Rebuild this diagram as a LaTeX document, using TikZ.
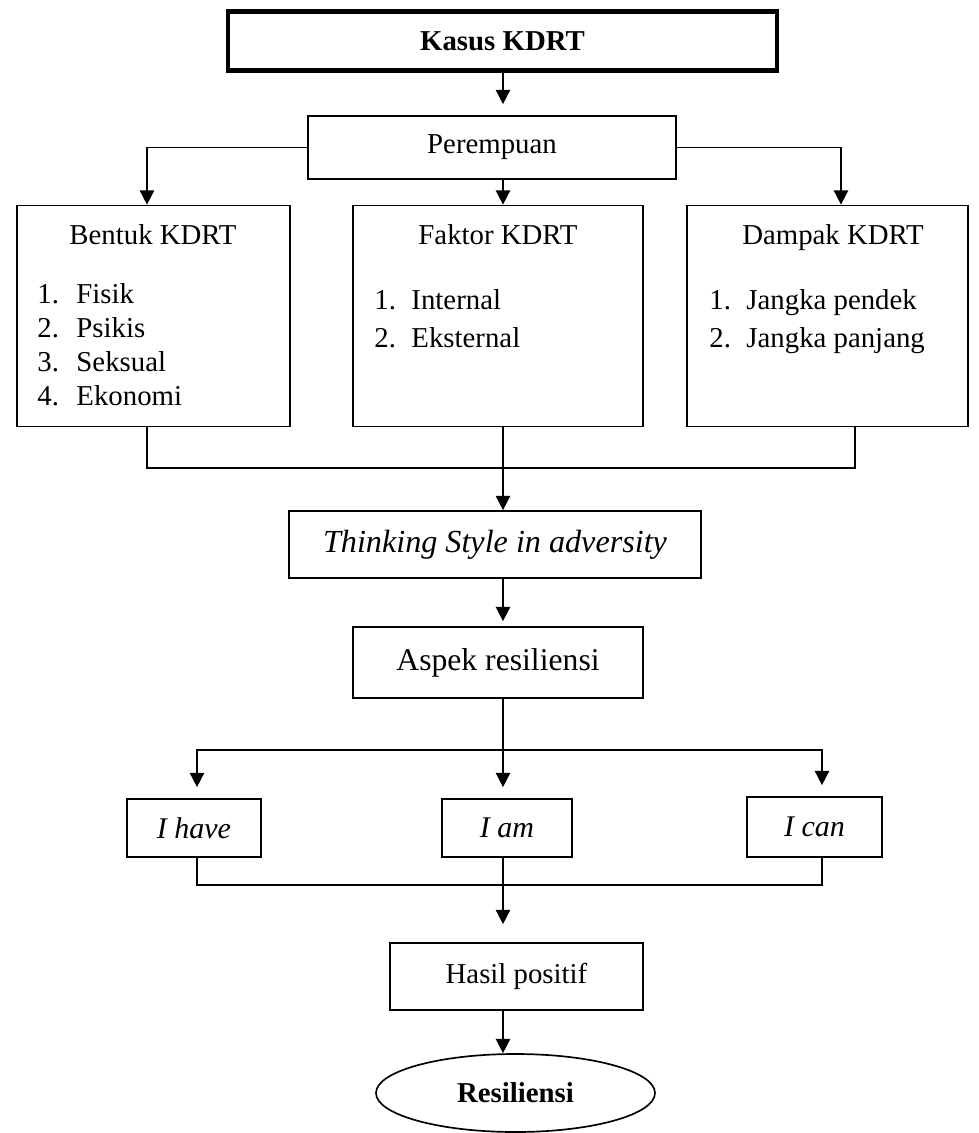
\documentclass[tikz,border=0pt]{standalone}
\usepackage{fontspec}
\setmainfont{Liberation Serif}
\usetikzlibrary{arrows.meta,shapes.geometric}
\newdimen\pxu \pxu=0.41667pt
\begin{document}
\begin{tikzpicture}[x=0.41667pt,y=-0.41667pt,
  fnt/.style={font=\fontsize{12}{14}\selectfont},
  box/.style={draw,line width=0.7pt,rectangle,inner sep=0pt,fnt},
  txt/.style={inner sep=0pt,fnt,anchor=base west},
  ttl/.style={inner sep=0pt,fnt,anchor=base},
  itbox/.style={box,font=\fontsize{12.5}{14}\selectfont\itshape},
  ln/.style={line width=0.65pt},
  arr/.style={ln,-{Triangle[length=6pt,width=6pt]}}]
\useasboundingbox (0,0) rectangle (979,1133);
% reference x positions
\coordinate (xM) at (503,0);
\coordinate (xL) at (147,0);
\coordinate (xR) at (841,0);
\coordinate (xR2) at (855,0);
\coordinate (xA) at (197,0);
\coordinate (xC) at (822,0);
\coordinate (j1) at (503,468);
\coordinate (j2) at (503,750);
\coordinate (j3) at (503,885);
% boxes
\node[box,line width=1.7pt,minimum width=549\pxu,minimum height=59\pxu,font=\fontsize{12}{14}\selectfont\bfseries] (kasus) at (502.5,41) {Kasus KDRT};
\node[box,minimum width=368\pxu,minimum height=63\pxu] (perem) at (492,147.5) {Perempuan};
\node[box,minimum width=273\pxu,minimum height=221\pxu] (bentuk) at (153.5,316) {};
\node[box,minimum width=290\pxu,minimum height=221\pxu] (faktor) at (498,316) {};
\node[box,minimum width=281\pxu,minimum height=221\pxu] (dampak) at (827.5,316) {};
% Bentuk contents
\node[ttl] (bT) at (153,244) {Bentuk KDRT};
\node[txt] (b1n) at (37,303) {1.};  \node[txt] (b1) at (76,303) {Fisik};
\node[txt] (b2n) at (37,337) {2.};  \node[txt] (b2) at (76,337) {Psikis};
\node[txt] (b3n) at (37,371) {3.};  \node[txt] (b3) at (76,371) {Seksual};
\node[txt] (b4n) at (37,405) {4.};  \node[txt] (b4) at (76,405) {Ekonomi};
% Faktor contents
\node[ttl] (fT) at (498,244) {Faktor KDRT};
\node[txt] (f1n) at (374,309) {1.}; \node[txt] (f1) at (411,309) {Internal};
\node[txt] (f2n) at (374,347) {2.}; \node[txt] (f2) at (411,347) {Eksternal};
% Dampak contents
\node[ttl] (dT) at (833,244) {Dampak KDRT};
\node[txt] (d1n) at (709,309) {1.}; \node[txt] (d1) at (746,309) {Jangka pendek};
\node[txt] (d2n) at (709,347) {2.}; \node[txt] (d2) at (746,347) {Jangka panjang};
% lower boxes
\node[box,minimum width=412\pxu,minimum height=67\pxu,font=\fontsize{13.4}{15}\selectfont\itshape] (think) at (495,544.5) {Thinking Style in adversity};
\node[box,minimum width=290\pxu,minimum height=71\pxu,font=\fontsize{13.2}{15}\selectfont] (aspek) at (498,662.5) {Aspek resiliensi};
\node[itbox,minimum width=134\pxu,minimum height=58\pxu] (ihave) at (194,828) {I have};
\node[itbox,minimum width=130\pxu,minimum height=58\pxu] (iam) at (507,828) {I am};
\node[itbox,minimum width=135\pxu,minimum height=60\pxu] (ican) at (814.5,827) {I can};
\node[box,minimum width=253\pxu,minimum height=67\pxu] (hasil) at (516.5,976.5) {Hasil positif};
\node[draw,ellipse,line width=0.7pt,inner sep=0pt,minimum width=279\pxu,minimum height=78\pxu,font=\fontsize{12}{14}\selectfont\bfseries] (res) at (515.5,1093) {Resiliensi};
% connectors
\draw[arr,shorten >=11\pxu] (kasus.south -| xM) -- (perem.north -| xM);
\draw[arr] (perem.west) -| (bentuk.north -| xL);
\draw[arr] (perem.east) -| (dampak.north -| xR);
\draw[arr] (perem.south -| xM) -- (faktor.north -| xM);
\draw[ln] (bentuk.south -| xL) |- (j1);
\draw[ln] (dampak.south -| xR2) |- (j1);
\draw[arr] (faktor.south -| xM) -- (think.north -| xM);
\draw[arr,shorten >=5\pxu] (think.south -| xM) -- (aspek.north -| xM);
\draw[ln] (aspek.south -| xM) -- (j2);
\draw[arr,shorten >=11\pxu] (j2) -| (ihave.north -| xA);
\draw[arr,shorten >=11\pxu] (j2) -- (iam.north -| xM);
\draw[arr,shorten >=11\pxu] (j2) -| (ican.north -| xC);
\draw[ln] (ihave.south -| xA) |- (j3);
\draw[ln] (ican.south -| xC) |- (j3);
\draw[arr,shorten >=18\pxu] (iam.south -| xM) -- (hasil.north -| xM);
\draw[arr] (hasil.south -| xM) -- (res.north -| xM);
\end{tikzpicture}
\end{document}
